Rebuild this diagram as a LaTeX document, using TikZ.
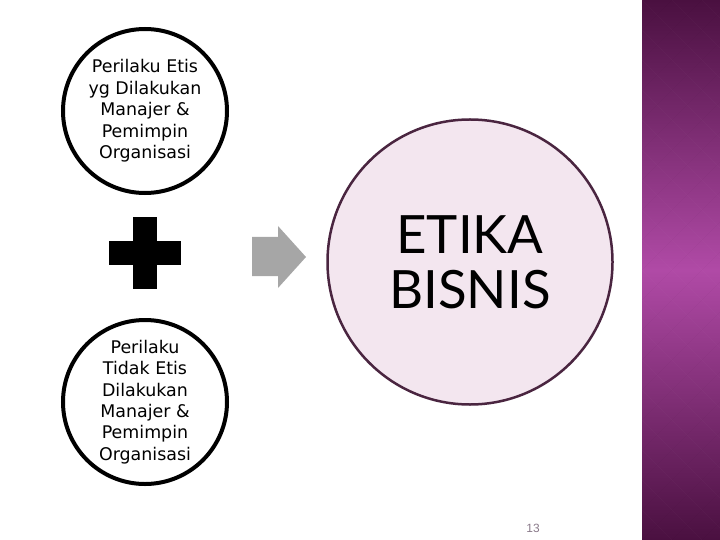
\documentclass[tikz,border=0pt]{standalone}
\usepackage{fontspec}
\usepackage{tikz}
\usepackage{xcolor}
\usetikzlibrary{positioning}
\newfontfamily\circlefont{DejaVu Sans}
\newfontfamily\titlefont{Lato}
\newfontfamily\pagefont{Liberation Sans}
\definecolor{etikaFill}{HTML}{F3E6EF}
\definecolor{etikaLine}{HTML}{4A2540}
\definecolor{stripDark}{HTML}{4A1040}
\definecolor{stripLight}{HTML}{B04AA6}
\definecolor{pageGray}{HTML}{8A7A8A}
\def\EtikaColor{etikaFill}
\def\ArrowColor{black!35}

\begin{document}
\begin{tikzpicture}[
    x=1bp, y=-1bp,
    every node/.style={align=center},
    smallcircle/.style={draw, circle, line width=4bp, minimum size=164bp, inner sep=0pt, font=\circlefont\fontsize{17.5}{21.5}\selectfont},
    bigcircle/.style={draw=etikaLine, circle, line width=2.5bp, fill=\EtikaColor, minimum size=285bp, inner sep=0pt, font=\titlefont\fontsize{53}{55}\selectfont},
    plusbar/.style={fill=black, rectangle, inner sep=0pt},
    blockarrow/.style={fill=\ArrowColor}
]
\useasboundingbox (0,0) rectangle (720,540);

% Backgrounds
\shade[top color=stripDark, bottom color=stripDark, middle color=stripLight] (642,0) rectangle (720,540);
\begin{scope}
  \clip (642,0) rectangle (720,540);
  \foreach \k in {-600,-570,...,600} {
    \draw[white, opacity=0.025, line width=0.6bp] (642+\k,0) -- ++(540,540);
    \draw[black, opacity=0.025, line width=0.6bp] (642+\k,540) -- ++(540,-540);
  }
\end{scope}

% Left section nodes
\node[smallcircle] (etis) at (145,111) {Perilaku Etis\\ yg Dilakukan\\ Manajer \&\\ Pemimpin\\ Organisasi};
\node[smallcircle, below=123bp of etis] (tidakEtis) {Perilaku\\ Tidak Etis\\ Dilakukan\\ Manajer \&\\ Pemimpin\\ Organisasi};

% Plus sign
\node[plusbar, minimum width=24bp, minimum height=72bp] (plusV) at (145,253) {};
\node[plusbar, minimum width=72bp, minimum height=23bp] (plusH) at (plusV.center) {};

% Arrow and result
\coordinate (toEtika) at (279,257);
\fill[blockarrow] (toEtika) +(-27,-20) -- +(-1,-20) -- +(-1,-31) -- +(27,0) -- +(-1,31) -- +(-1,19) -- +(-27,19) -- cycle;
\node[bigcircle] (etika) at (470,262) {ETIKA\\ BISNIS};

% Page number
\node[font=\pagefont\fontsize{12}{14}\selectfont, text=pageGray] (pageNo) at (533,528) {13};
\end{tikzpicture}
\end{document}
